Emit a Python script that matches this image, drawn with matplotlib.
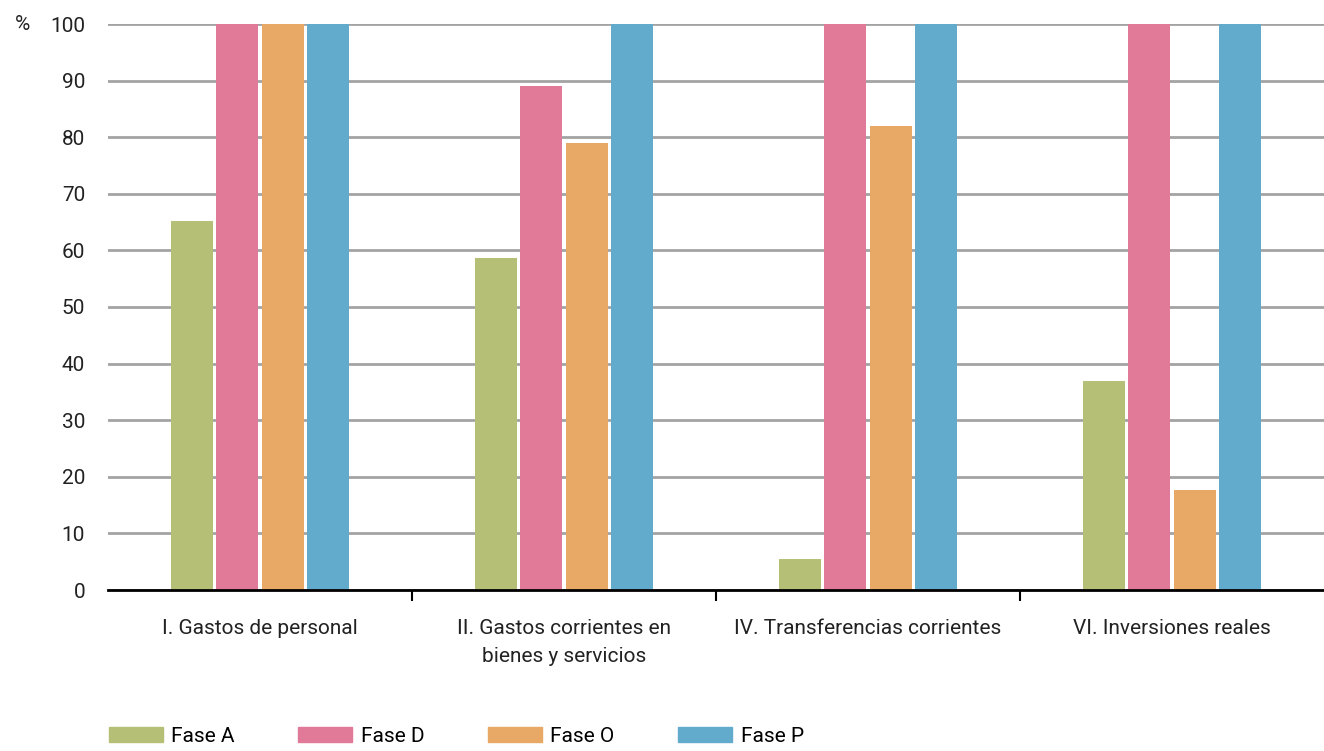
import matplotlib
matplotlib.use('Agg')
from matplotlib import pyplot as plt
from matplotlib.patches import Patch
import numpy as np

plt.rcParams['font.family'] = ['Roboto', 'DejaVu Sans']

categories = ['I. Gastos de personal',
              'II. Gastos corrientes en\nbienes y servicios',
              'IV. Transferencias corrientes',
              'VI. Inversiones reales']
series_names = ['Fase A', 'Fase D', 'Fase O', 'Fase P']
fase_a = [65.2, 58.7, 5.5, 36.9]
fase_d = [100, 89.0, 100, 100]
fase_o = [100, 79.0, 82.0, 17.7]
fase_p = [100, 100, 100, 100]
colors = ['#b5bf76', '#e07a98', '#e8a967', '#62abcd']
yticks = [0, 10, 20, 30, 40, 50, 60, 70, 80, 90, 100]

fig = plt.figure(figsize=(13.24, 7.51), dpi=100)
ax = fig.add_axes([108/1324, 161/751, 1 - 108/1324, 566/751])

x = np.arange(len(categories))
step, width = 0.15, 0.138
for i, (vals, c) in enumerate(zip([fase_a, fase_d, fase_o, fase_p], colors)):
    ax.bar(x + (i - 1.5)*step, vals, width=width, color=c, zorder=3)

ax.set_xlim(-0.5, 3.5)
ax.set_ylim(0, 100)
ax.set_yticks(yticks)
ax.yaxis.grid(True, color='#a3a3a3', linewidth=2, zorder=0)
ax.set_axisbelow(True)
for s in ['top', 'right', 'left']:
    ax.spines[s].set_visible(False)
ax.spines['bottom'].set_linewidth(2)
ax.spines['bottom'].set_color('black')
ax.spines['bottom'].set_zorder(4)

ax.set_xticks(x)
ax.set_xticklabels(categories, fontsize=15, linespacing=1.6, color='#222222')
ax.tick_params(axis='x', length=0, pad=21)
ax.set_xticks([0.5, 1.5, 2.5], minor=True)
ax.tick_params(axis='x', which='minor', length=8, width=1.5, color='black')
ax.tick_params(axis='y', length=0, labelsize=15, pad=16.5, labelcolor='#222222')

fig.text(22/1324, 1 - 24/751, '%', fontsize=15, ha='center', va='center', color='#222222')

handles = [Patch(color=c) for c in colors]
fig.legend(handles, series_names, loc='lower left', bbox_to_anchor=(90/1324, -0.018),
           ncol=4, frameon=False, fontsize=15, handlelength=2.6, handleheight=0.8,
           handletextpad=0.4, columnspacing=3.05)

fig.savefig('out.png', dpi=100)
